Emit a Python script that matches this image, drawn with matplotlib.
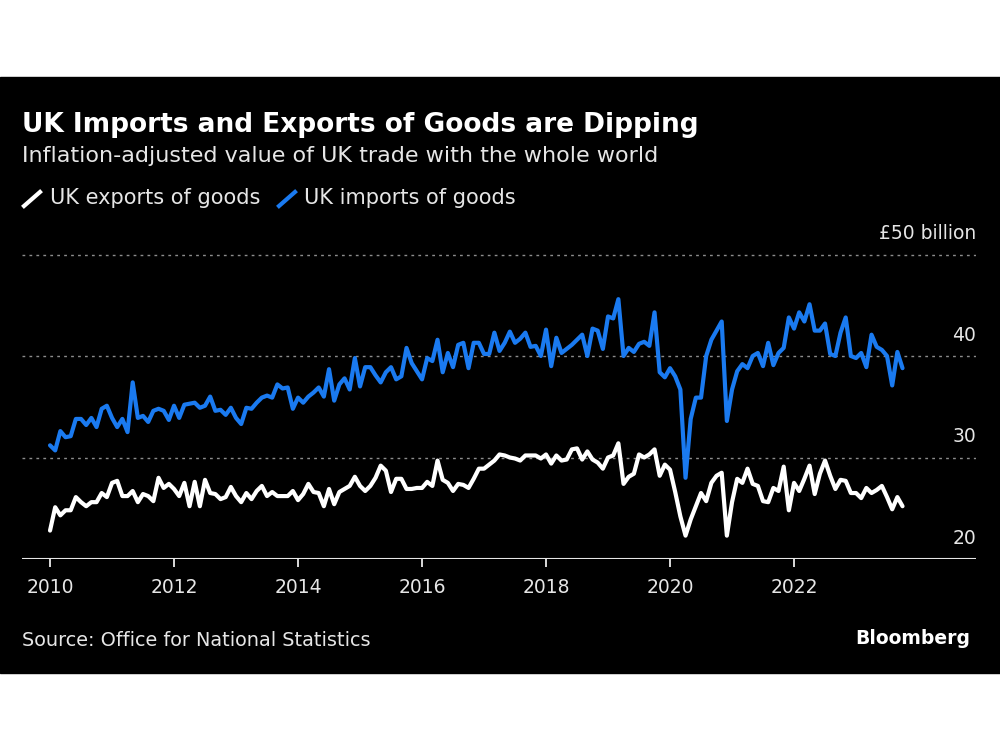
import matplotlib.pyplot as plt
from matplotlib.lines import Line2D
from matplotlib.patches import Rectangle

# monthly values, Jan 2010 onwards, £ billion
imports = [
    31.2, 30.7, 32.6, 32.0, 32.1, 33.8, 33.8, 33.2, 33.9, 33.0, 34.8, 35.1,
    33.9, 33.0, 33.8, 32.5, 37.4, 33.9, 34.1, 33.5, 34.6, 34.8, 34.6, 33.7,
    35.1, 33.9, 35.2, 35.3, 35.4, 34.9, 35.1, 36.0, 34.6, 34.7, 34.2, 34.9,
    33.9, 33.3, 34.9, 34.8, 35.4, 35.9,
    36.1, 35.9, 37.2, 36.8, 36.9, 34.8, 35.9, 35.4, 36.0, 36.4, 36.9, 36.0,
    38.7, 35.6, 37.2, 37.8, 36.7, 39.8, 37.0, 38.9, 38.9, 38.1, 37.4, 38.4,
    38.9, 37.7, 38.0, 40.8, 39.3, 38.5, 37.7, 39.8, 39.5, 41.6, 38.4, 40.3,
    38.9, 41.1, 41.3, 38.8, 41.3,
    41.3, 40.2, 40.2, 42.3, 40.5, 41.3, 42.4, 41.3, 41.7, 42.3, 40.9, 41.0,
    40.0, 42.6, 39.0, 41.8, 40.3, 40.7, 41.1, 41.6, 42.1, 40.0, 42.7, 42.5,
    40.7, 43.9, 43.7, 45.6, 40.0, 40.8, 40.4, 41.2, 41.4, 41.0, 44.3, 38.4,
    37.9, 38.8, 38.0, 36.7,
    28.0, 33.8, 35.9, 35.9, 40.0, 41.6, 42.5, 43.4, 33.6, 36.7, 38.5, 39.2,
    38.8, 40.0, 40.3, 39.0, 41.3, 39.1, 40.3, 40.8, 43.8, 42.7, 44.3, 43.4,
    45.1, 42.5, 42.5, 43.2, 40.2, 40.0, 42.3, 43.8, 40.0, 39.8, 40.3, 38.9,
    42.1, 40.9, 40.6, 40.0, 37.1, 40.4, 38.8,
]
exports = [
    22.8, 25.1, 24.3, 24.8, 24.8, 26.1, 25.6, 25.2, 25.6, 25.6, 26.5, 26.1,
    27.5, 27.7, 26.2, 26.2, 26.7, 25.6, 26.4, 26.2, 25.7, 28.0, 27.0, 27.4,
    26.9, 26.2, 27.5, 25.2, 27.6, 25.2, 27.8, 26.5, 26.4, 25.9, 26.1, 27.1,
    26.2, 25.6, 26.5, 25.9, 26.7, 27.2,
    26.2, 26.6, 26.2, 26.2, 26.2, 26.7, 25.8, 26.4, 27.4, 26.6, 26.5, 25.2,
    26.9, 25.4, 26.6, 26.9, 27.2, 28.1, 27.2, 26.7, 27.2, 28.0, 29.2, 28.7,
    26.6, 27.9, 27.9, 26.9, 26.9, 27.0, 27.0, 27.6, 27.2, 29.7, 27.8, 27.5,
    26.7, 27.4, 27.3, 27.0, 27.9,
    28.9, 28.9, 29.3, 29.7, 30.3, 30.2, 30.0, 29.9, 29.7, 30.2, 30.2, 30.2,
    29.9, 30.3, 29.4, 30.2, 29.7, 29.8, 30.8, 30.9, 29.8, 30.6, 29.8, 29.5,
    28.9, 30.0, 30.2, 31.4, 27.4, 28.1, 28.4, 30.3, 30.0, 30.3, 30.8, 28.2,
    29.3, 28.8, 26.6, 24.2,
    22.3, 23.9, 25.2, 26.5, 25.7, 27.5, 28.2, 28.5, 22.3, 25.6, 27.9, 27.5,
    28.9, 27.4, 27.2, 25.7, 25.6, 27.0, 26.7, 29.1, 24.8, 27.5, 26.7, 27.9,
    29.2, 26.4, 28.4, 29.7, 28.2, 26.9, 27.8, 27.7, 26.5, 26.5, 26.0, 27.0,
    26.5, 26.8, 27.2, 26.1, 24.9, 26.1, 25.2,
]
dates = [2010 + i / 12 for i in range(len(imports))]

year_ticks = [2010, 2012, 2014, 2016, 2018, 2020, 2022]
value_ticks = [20, 30, 40, 50]
value_labels = ['20', '30', '40', '£50 billion']

BLUE = '#1a7af0'
W, H = 1000, 750
FONT = 'DejaVu Sans'

fig = plt.figure(figsize=(10, 7.5), dpi=100)
fig.patch.set_facecolor('white')
# black panel behind everything
fig.patches.append(Rectangle((0, 1 - 672.5 / H), 1, (672.5 - 77) / H,
                             transform=fig.transFigure, color='black', zorder=-5))

ax = fig.add_axes([22 / W, 1 - 559 / H, 954 / W, (559 - 234.2) / H])
ax.set_zorder(2)
ax.set_facecolor('none')
ax.plot(dates, imports, color=BLUE, lw=3, solid_joinstyle='round',
        solid_capstyle='round', zorder=3)
ax.plot(dates, exports, color='white', lw=3, solid_joinstyle='round',
        solid_capstyle='round', zorder=3)

ax.set_xlim(2009.548, 2024.935)
ax.set_ylim(20, 52)
for s in ax.spines.values():
    s.set_visible(False)
ax.set_yticks([])
ax.set_xticks(year_ticks)
ax.set_xticklabels([str(y) for y in year_ticks], fontsize=13.5,
                   color='#e6e6e6', family=FONT)
ax.tick_params(axis='x', direction='out', length=6, width=1.2,
               color='white', pad=8)

for v, lab in zip(value_ticks, value_labels):
    if v == 20:
        ax.axhline(v, color='#e6e6e6', lw=1.5, zorder=2)
    else:
        ax.axhline(v, color='#8c8c8c', lw=1, ls=(0, (2, 3)), zorder=1)
    ax.annotate(lab, xy=(1, v), xycoords=('axes fraction', 'data'),
                xytext=(0, 15), textcoords='offset points',
                ha='right', va='center', fontsize=13.5, color='#e6e6e6',
                family=FONT)

# titles
fig.text(22 / W, 1 - 125 / H, 'UK Imports and Exports of Goods are Dipping',
         fontsize=19, fontweight='bold', color='white', va='center', family=FONT)
fig.text(22 / W, 1 - 156 / H, 'Inflation-adjusted value of UK trade with the whole world',
         fontsize=16, color='#e6e6e6', va='center', family=FONT)

# legend
fig.add_artist(Line2D([24 / W, 40 / W], [1 - 206 / H, 1 - 192 / H],
                      color='white', lw=3, transform=fig.transFigure))
fig.text(50 / W, 1 - 198 / H, 'UK exports of goods', fontsize=15,
         color='#e6e6e6', va='center', family=FONT)
fig.add_artist(Line2D([279 / W, 295 / W], [1 - 206 / H, 1 - 192 / H],
                      color=BLUE, lw=3, transform=fig.transFigure))
fig.text(304 / W, 1 - 198 / H, 'UK imports of goods', fontsize=15,
         color='#e6e6e6', va='center', family=FONT)

# footer
fig.text(22 / W, 1 - 640 / H, 'Source: Office for National Statistics',
         fontsize=13.9, color='#e6e6e6', va='center', family=FONT)
fig.text(970 / W, 1 - 638 / H, 'Bloomberg', fontsize=13.5, fontweight='bold',
         color='white', va='center', ha='right', family=FONT)

fig.savefig('out.png', dpi=100, facecolor=fig.get_facecolor())
